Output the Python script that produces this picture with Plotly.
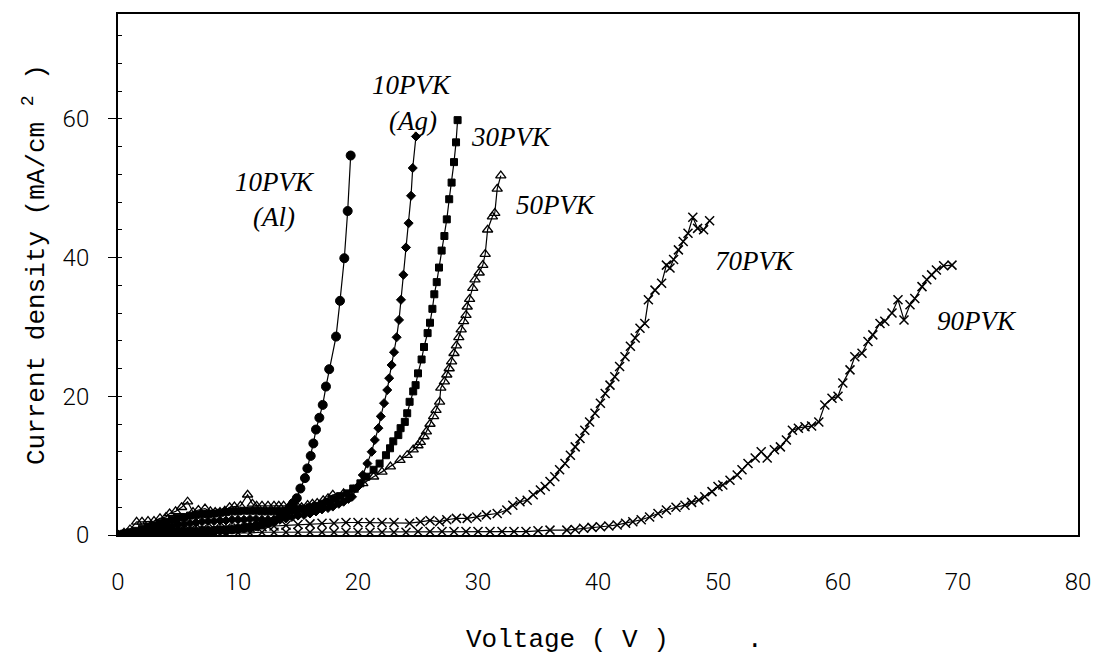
import plotly.graph_objects as go

# ---- data (Voltage V, current density mA/cm^2) ----
al_v = [0, 0.5, 1, 1.5, 2, 2.5, 3, 3.5, 4, 4.5, 5, 5.5, 6, 6.5, 7, 7.5, 8, 8.5, 9, 9.5, 10, 10.5, 11, 11.5,
        12, 12.5, 13, 13.5, 14, 14.3, 14.6, 14.9, 15.2, 15.58, 15.78, 16.06, 16.28, 16.5, 16.78, 17.06,
        17.33, 17.6, 18.17, 18.5, 18.86, 19.14, 19.39]
al_j = [0, 0.1, 0.1, 0.2, 0.2, 0.3, 0.3, 0.4, 0.4, 0.4, 0.5, 0.5, 0.5, 0.5, 0.6, 0.6, 0.6, 0.7, 0.7, 0.8, 0.9,
        1.0, 1.1, 1.3, 1.5, 1.7, 2.0, 2.5, 3.2, 3.9, 4.6, 5.3, 6.7, 8.2, 9.6, 11.4, 13.2, 15.2, 16.9, 18.75,
        21.4, 23.9, 28.6, 33.75, 39.9, 46.7, 54.7]

ag_v = [0, 0.5, 1, 1.5, 2, 2.5, 3, 3.5, 4, 4.5, 5, 5.5, 6, 6.5, 7, 7.5, 8, 8.5, 9, 9.5, 10, 10.5, 11, 11.5,
        12, 12.5, 13, 13.5, 14, 14.5, 15, 15.5, 16, 16.5, 17, 17.5, 17.9, 18.4, 18.8, 19.2, 19.5, 20.0,
        20.4, 20.78, 21.14, 21.4, 21.7, 21.9, 22.17, 22.44, 22.6, 22.8, 23.0, 23.22, 23.42, 23.58, 23.78,
        24.0, 24.22, 24.42, 24.56, 24.83]
ag_j = [0, 0.1, 0.2, 0.3, 0.4, 0.5, 0.7, 0.9, 1.1, 1.3, 1.5, 1.6, 1.7, 1.8, 1.9, 2.0, 2.0, 2.1, 2.1, 2.2, 2.2,
        2.2, 2.3, 2.3, 2.2, 2.2, 2.2, 2.2, 2.4, 2.6, 2.8, 2.9, 3.1, 3.4, 3.7, 3.9, 4.1, 4.5, 4.8, 5.2, 5.5,
        7.0, 8.65, 10.3, 12.0, 13.7, 15.4, 17.1, 19.0, 20.9, 22.6, 24.5, 26.35, 28.5, 31.0, 33.9, 37.5,
        41.45, 44.95, 48.9, 52.9, 57.45]

p30_v = [0, 0.5, 1, 1.5, 2, 2.5, 3, 3.5, 4, 4.5, 5, 5.5, 6, 6.5, 7, 7.5, 8, 8.5, 9, 9.5, 10, 10.5, 11, 11.5,
         12, 12.5, 13, 13.5, 14, 14.5, 15, 15.5, 16, 16.5, 17, 17.5, 18, 18.5, 19.06, 19.6, 20.2, 20.7,
         21.3, 21.8, 22.33, 22.67, 22.94, 23.36, 23.55, 23.9, 24.1, 24.3, 24.6, 24.8, 25.0, 25.3, 25.5,
         25.8, 26.0, 26.2, 26.36, 26.56, 26.75, 26.97, 27.2, 27.4, 27.6, 27.8, 28.0, 28.17, 28.3]
p30_j = [0, 0.2, 0.4, 0.6, 0.9, 1.2, 1.4, 1.7, 1.9, 2.2, 2.5, 2.6, 2.8, 2.9, 3.0, 3.0, 3.1, 3.2, 3.3, 3.4,
         3.4, 3.5, 3.5, 3.5, 3.4, 3.4, 3.4, 3.4, 3.5, 3.6, 3.7, 3.8, 4.0, 4.2, 4.5, 4.8, 5.2, 5.6, 6.0, 6.7,
         7.45, 8.4, 9.4, 10.3, 11.5, 12.5, 13.5, 14.4, 15.4, 16.3, 17.55, 19.2, 20.7, 21.6, 23.3, 25.3,
         27.1, 29.1, 30.6, 32.6, 34.7, 36.45, 38.55, 41.0, 43.1, 45.5, 48.4, 50.8, 53.75, 56.6, 59.8]

p50_v = [0, 0.5, 1, 1.55, 2, 2.5, 3, 3.5, 4, 4.3, 4.8, 5.3, 5.8, 6.25, 6.7, 7.25, 7.7, 8.1, 8.5, 8.9, 9.3,
         9.7, 10.2, 10.8, 11.2, 11.55, 12, 12.5, 13, 13.4, 13.8, 14.3, 14.9, 15.3, 15.8, 16.2, 16.6, 17.1,
         17.5, 17.9, 18.8, 19.6, 20.4, 21.3, 22.0, 22.7, 23.5, 24.1, 24.6, 25.0, 25.2, 25.5, 25.7, 26.0,
         26.3, 26.5, 26.8, 26.9, 27.2, 27.4, 27.6, 27.8, 28.0, 28.2, 28.4, 28.6, 28.8, 29.0, 29.1, 29.3,
         29.56, 29.75, 30.1, 30.4, 30.6, 30.8, 31.2, 31.4, 31.6, 31.9]
p50_j = [0, 0.3, 0.8, 1.9, 1.9, 2.0, 2.0, 2.4, 2.6, 3.1, 3.4, 4.0, 4.8, 3.3, 3.6, 3.8, 3.4, 3.3, 3.3, 3.5,
         4.0, 4.1, 4.2, 5.8, 4.5, 4.2, 4.2, 4.2, 4.2, 4.2, 4.2, 4.2, 4.2, 4.0, 4.3, 4.5, 4.6, 5.0, 5.3, 5.8,
         6.0, 6.5, 7.45, 8.4, 9.1, 9.85, 10.8, 11.5, 12.3, 12.9, 13.4, 14.2, 14.9, 16.0, 17.1, 18.0, 19.2,
         21.2, 22.1, 23.1, 24.0, 25.0, 26.2, 27.3, 28.5, 29.6, 30.8, 31.7, 32.9, 34.0, 35.6, 36.8, 37.8,
         38.9, 40.5, 44.0, 45.9, 46.4, 49.9, 51.8]

p70_v = [0, 1, 2, 3, 4, 5, 6, 7, 8, 9, 10, 11, 12, 13, 14, 15, 16, 17, 18, 19, 20, 21, 22, 23, 24.3, 25.2,
         26.0, 26.8, 27.4, 28.2, 29.1, 29.9, 30.7, 31.6, 32.4, 32.9, 33.5, 34.1, 34.6, 35.2, 35.6, 36.0,
         36.4, 36.8, 37.25, 37.7, 38.1, 38.5, 38.9, 39.3, 39.75, 40.2, 40.6, 41.0, 41.4, 41.8, 42.25, 42.7,
         43.1, 43.5, 43.9, 44.2, 44.75, 45.3, 45.7, 46.0, 46.3, 46.7, 47.1, 47.5, 47.9, 48.3, 48.8, 49.3]
p70_j = [0, 0.2, 0.3, 0.4, 0.5, 0.6, 0.7, 0.8, 0.9, 1.0, 1.0, 1.1, 1.2, 1.3, 1.4, 1.5, 1.6, 1.7, 1.7, 1.8,
         1.8, 1.8, 1.8, 1.8, 1.7, 1.9, 2.1, 1.9, 2.2, 2.4, 2.4, 2.6, 2.9, 3.1, 3.6, 4.3, 4.8, 5.0, 5.8, 6.5,
         7.0, 7.7, 8.4, 9.4, 10.3, 11.5, 12.7, 13.9, 15.1, 16.3, 17.55, 19.0, 20.4, 21.6, 22.8, 24.3, 25.7,
         27.2, 28.4, 29.8, 30.5, 33.9, 35.3, 36.3, 38.9, 38.5, 39.7, 41.1, 42.3, 43.5, 45.8, 44.2, 44.0, 45.3]

p90_v = [0, 1, 2, 3, 4, 5, 6, 7, 8, 9, 10, 11, 12, 13, 14, 15, 16, 17, 18, 19, 20, 21, 22, 23, 24, 25, 26,
         27, 28, 29, 30, 31, 32, 33, 34, 35, 36, 37.4, 38.1, 38.8, 39.5, 40.2, 40.9, 41.6, 42.3, 42.9, 43.6,
         44.3, 45.0, 45.7, 46.5, 47.25, 47.8, 48.4, 48.9, 49.5, 50.0, 50.4, 51.0, 51.6, 52.0, 52.5, 53.1,
         53.6, 54.1, 54.7, 55.2, 55.7, 56.2, 56.7, 57.25, 57.8, 58.4, 58.9, 59.5, 60.0, 60.4, 61.0, 61.4,
         62.0, 62.5, 62.9, 63.5, 63.9, 64.5, 65.0, 65.5, 66.0, 66.4, 67.0, 67.4, 67.8, 68.2, 68.8, 69.5]
p90_j = [0, 0.1, 0.1, 0.2, 0.2, 0.2, 0.3, 0.3, 0.3, 0.3, 0.3, 0.3, 0.4, 0.4, 0.4, 0.4, 0.4, 0.4, 0.4, 0.4,
         0.4, 0.4, 0.4, 0.4, 0.4, 0.5, 0.5, 0.5, 0.5, 0.5, 0.5, 0.5, 0.5, 0.5, 0.5, 0.6, 0.7, 0.7, 0.8, 0.97,
         1.1, 1.2, 1.3, 1.45, 1.7, 1.9, 2.2, 2.6, 3.1, 3.6, 4.0, 4.3, 4.7, 5.05, 5.5, 6.25, 7.0, 7.2, 7.9,
         8.65, 9.4, 10.3, 11.1, 12.0, 11.1, 12.3, 12.7, 13.7, 15.1, 15.4, 15.6, 15.7, 16.3, 18.75, 19.7,
         20.0, 21.9, 23.8, 25.7, 26.2, 27.9, 28.85, 30.5, 30.8, 32.0, 33.9, 31.0, 33.2, 34.1, 35.8, 36.8,
         37.5, 38.2, 38.8, 38.9]

x_ticks = [0, 10, 20, 30, 40, 50, 60, 70, 80]
y_ticks = [0, 20, 40, 60]

labels = ["10PVK", "(Al)", "10PVK", "(Ag)", "30PVK", "50PVK", "70PVK", "90PVK"]
label_v = [13.1, 13.0, 24.5, 24.6, 32.8, 36.5, 53.1, 71.6]
label_j = [50.9, 45.9, 64.9, 59.7, 57.3, 47.5, 39.5, 30.9]

fig = go.Figure()

series = [
    (al_v, al_j, "circle", 9, 1),
    (ag_v, ag_j, "diamond", 7, 1),
    (p30_v, p30_j, "square", 7, 1),
    (p50_v, p50_j, "triangle-up-open", 9, 1.3),
    (p70_v, p70_j, "x-thin-open", 9, 1.5),
    (p90_v, p90_j, "x-thin-open", 9, 1.5),
]
for v, j, sym, sz, lw in series:
    fig.add_trace(go.Scatter(
        x=v, y=j, mode="lines+markers",
        line=dict(color="black", width=1.2),
        marker=dict(symbol=sym, size=sz, color="black",
                    line=dict(color="black", width=lw)),
        showlegend=False,
    ))

for t, xv, yv in zip(labels, label_v, label_j):
    fig.add_annotation(x=xv, y=yv, xref="x", yref="y", text=t, showarrow=False,
                       font=dict(family="Liberation Serif, Times New Roman, serif", size=27,
                                 color="black", style="italic"))

mono = "Liberation Mono, DejaVu Sans Mono, monospace"
fig.add_annotation(x=-0.0865, y=0.52, xref="paper", yref="paper",
                   xanchor="center", yanchor="middle",
                   text="Current density (mA/cm <sup>2</sup> )", textangle=-90, showarrow=False,
                   font=dict(family=mono, size=26, color="black"))
fig.add_annotation(x=0.468, y=-0.2015, xref="paper", yref="paper",
                   xanchor="center", yanchor="middle",
                   text="Voltage ( V )", showarrow=False,
                   font=dict(family=mono, size=26, color="black"))
fig.add_annotation(x=0.6635, y=-0.2015, xref="paper", yref="paper",
                   xanchor="center", yanchor="middle",
                   text=".", showarrow=False,
                   font=dict(family=mono, size=26, color="black"))

tickfont = dict(family="Roboto, Liberation Sans, sans-serif", weight=300,
                size=24, color="black")

# page body has an 8px default margin, so the figure is sized to fit the window
fig.update_layout(
    width=1091, height=649,
    margin=dict(l=110, r=21, t=6, b=122, autoexpand=False),
    paper_bgcolor="white", plot_bgcolor="white",
    xaxis=dict(range=[0, 80], tickvals=x_ticks, ticks="", showgrid=False, zeroline=False,
               showline=True, linecolor="black", linewidth=2, mirror=True, automargin=False,
               tickfont=tickfont, ticklabelstandoff=24),
    yaxis=dict(range=[0, 75.1], tickvals=y_ticks, ticks="outside", ticklen=8, tickwidth=1.2,
               tickcolor="black", showgrid=False, zeroline=False, automargin=False,
               showline=True, linecolor="black", linewidth=2, mirror=True,
               tickfont=tickfont, ticklabelstandoff=14,
               minor=dict(tick0=0, dtick=4, ticks="inside", ticklen=4, tickcolor="black",
                          showgrid=False)),
)

fig.write_html("out.html")
